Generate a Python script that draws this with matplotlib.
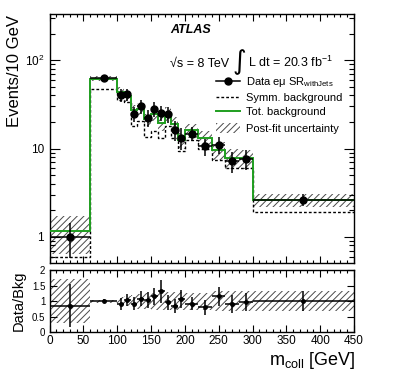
import numpy as np
import matplotlib
matplotlib.use('Agg')
import matplotlib.pyplot as plt
from matplotlib.patches import Rectangle
from matplotlib.ticker import FixedLocator, FixedFormatter, MultipleLocator, NullFormatter, LogLocator

plt.rcParams['font.family'] = ['Liberation Sans', 'DejaVu Sans']
plt.rcParams['mathtext.fontset'] = 'custom'
plt.rcParams['mathtext.rm'] = 'Liberation Sans'
plt.rcParams['mathtext.it'] = 'Liberation Sans:italic'
plt.rcParams['mathtext.bf'] = 'Liberation Sans:bold'
plt.rcParams['hatch.linewidth'] = 0.7

# ---------------- data ----------------
bin_edges = [0, 60, 100, 110, 120, 130, 140, 150, 160, 170, 180, 190, 200,
             220, 240, 260, 280, 300, 450]
data = [1.0, 63.6, 40.3, 41.0, 24.8, 30.2, 22.3, 28.3, 25.5, 24.3, 16.3, 13.3,
        14.8, 10.6, 11.1, 7.2, 7.6, 2.63]
data_err = [0.42, 4.0, 6.3, 6.4, 5.0, 5.5, 4.7, 5.3, 5.0, 4.9, 4.0, 3.6,
            2.7, 2.3, 2.35, 1.9, 1.95, 0.42]
tot_bkg = [1.18, 62.0, 44.0, 39.5, 27.0, 28.2, 21.4, 24.4, 19.5, 25.0, 19.2, 12.4,
           16.1, 13.3, 9.6, 7.9, 7.8, 2.61]
symm_bkg = [0.6, 47.5, 35.0, 34.0, 18.0, 20.5, 13.5, 15.7, 13.0, 18.0, 13.0, 9.5,
            12.5, 10.0, 7.5, 6.0, 6.0, 1.9]
bkg_rel_unc = [0.45, 0.06, 0.12, 0.14, 0.15, 0.15, 0.16, 0.16, 0.18, 0.18, 0.18, 0.2,
               0.18, 0.2, 0.22, 0.25, 0.25, 0.17]
ratio = [0.85, 1.02, 0.91, 1.04, 0.92, 1.07, 1.04, 1.16, 1.31, 0.97, 0.85, 1.07,
         0.92, 0.80, 1.16, 0.91, 0.97, 1.01]
ratio_err = [0.69, 0.06, 0.18, 0.2, 0.21, 0.24, 0.25, 0.27, 0.36, 0.24, 0.23, 0.3,
             0.2, 0.25, 0.3, 0.28, 0.3, 0.32]
ratio_band_unc = [0.70, 0.05, 0.13, 0.17, 0.2, 0.24, 0.25, 0.27, 0.28, 0.28, 0.28, 0.28,
                  0.27, 0.27, 0.33, 0.33, 0.33, 0.33]

edges = np.array(bin_edges, dtype=float)
left = edges[:-1]
widths = np.diff(edges)
centers = left + widths / 2
tot = np.array(tot_bkg)
unc = np.array(bkg_rel_unc)
rb = np.array(ratio_band_unc)

GREEN = '#1f9e1f'
HATCH_C = '#4a4a4a'

W, H = 395, 380
fig = plt.figure(figsize=(W / 100, H / 100), dpi=100)
ax = fig.add_axes([49.5 / W, 1 - 263 / H, 304.5 / W, 249 / H])
ax2 = fig.add_axes([49.5 / W, 1 - 332.3 / H, 304.5 / W, 62.3 / H])

# ---------------- main panel ----------------
ax.bar(left, tot * unc * 2, width=widths, bottom=tot * (1 - unc), align='edge',
       facecolor='none', edgecolor=HATCH_C, hatch='/////', linewidth=0, zorder=1)
ax.stairs(symm_bkg, edges, baseline=None, color='black', lw=1.0,
          linestyle=(0, (2, 1.5)), zorder=2)
ax.stairs(tot_bkg, edges, baseline=None, color=GREEN, lw=1.4, zorder=3)
ax.errorbar(centers, data, yerr=data_err, xerr=widths / 2, fmt='o', color='black',
            ms=5, lw=1.1, capsize=0, zorder=4)

ax.set_yscale('log')
ax.set_xlim(0, 450)
ax.set_ylim(0.507, 333)
ax.yaxis.set_major_locator(FixedLocator([1, 10, 100]))
ax.yaxis.set_major_formatter(FixedFormatter(['1', '10', r'$10^{2}$']))
ax.yaxis.set_minor_locator(LogLocator(base=10, subs=np.arange(2, 10)))
ax.yaxis.set_minor_formatter(NullFormatter())
ax.xaxis.set_major_locator(MultipleLocator(50))
ax.xaxis.set_minor_locator(MultipleLocator(10))
ax.tick_params(axis='x', labelbottom=False)
ax.tick_params(which='both', direction='in', top=True, right=True, width=0.8)
ax.tick_params(axis='y', which='major', length=7, labelsize=8.5, pad=4)
ax.tick_params(axis='y', which='minor', length=3.6)
ax.tick_params(axis='x', which='major', length=5)
ax.tick_params(axis='x', which='minor', length=2.5)

# texts
ax.text(0.398, 0.925, 'ATLAS', transform=ax.transAxes, fontsize=9,
        fontweight='bold', fontstyle='italic', va='baseline', ha='left')
ax.text(0.396, 0.788, '√s = 8 TeV', transform=ax.transAxes, fontsize=9,
        va='baseline', ha='left')
ax.text(0.624, 0.805, '∫', transform=ax.transAxes, fontsize=19,
        family='DejaVu Sans', va='center', ha='center')
ax.text(0.652, 0.788, r'L dt = 20.3 fb$^{\mathregular{-1}}$', transform=ax.transAxes,
        fontsize=9, va='baseline', ha='left')

# legend (manual)
hx0, hx1, tx = 0.547, 0.627, 0.645
ax.plot([hx0, hx1], [0.732, 0.732], color='black', lw=1.1, transform=ax.transAxes)
ax.plot([(hx0 + hx1) / 2], [0.732], 'o', color='black', ms=5, transform=ax.transAxes)
ax.plot([hx0, hx1], [0.668, 0.668], color='black', lw=1.0, linestyle=(0, (2, 1.5)),
        transform=ax.transAxes)
ax.plot([hx0, hx1], [0.612, 0.612], color=GREEN, lw=1.4, transform=ax.transAxes)
ax.add_patch(Rectangle((hx0, 0.523), hx1 - hx0, 0.039, transform=ax.transAxes,
                       facecolor='none', edgecolor=HATCH_C, hatch='/////', linewidth=0))
ax.text(tx, 0.716, r'Data eμ SR$_{\mathregular{withJets}}$', transform=ax.transAxes,
        fontsize=8, va='baseline')
ax.text(tx, 0.652, 'Symm. background', transform=ax.transAxes, fontsize=8, va='baseline')
ax.text(tx, 0.596, 'Tot. background', transform=ax.transAxes, fontsize=8, va='baseline')
ax.text(tx, 0.528, 'Post-fit uncertainty', transform=ax.transAxes, fontsize=8, va='baseline')

# ---------------- ratio panel ----------------
ax2.bar(left, rb * 2, width=widths, bottom=1 - rb, align='edge',
        facecolor='none', edgecolor=HATCH_C, hatch='/////', linewidth=0, zorder=1)
ax2.errorbar(centers, ratio, yerr=ratio_err, xerr=widths / 2, fmt='o', color='black',
             ms=2.5, lw=1.1, capsize=0, zorder=4)
ax2.set_xlim(0, 450)
ax2.set_ylim(0, 2)
ax2.yaxis.set_major_locator(FixedLocator([0, 0.5, 1, 1.5, 2]))
ax2.yaxis.set_major_formatter(FixedFormatter(['0', '0.5', '1', '1.5', '2']))
ax2.xaxis.set_major_locator(MultipleLocator(50))
ax2.xaxis.set_minor_locator(MultipleLocator(10))
ax2.tick_params(which='both', direction='in', top=True, right=True, width=0.8)
ax2.tick_params(axis='y', which='major', length=5, labelsize=7, pad=3)
ax2.tick_params(axis='x', which='major', length=5, labelsize=8.5, pad=2)
ax2.tick_params(axis='x', which='minor', length=2.5)

for a in (ax, ax2):
    for s in a.spines.values():
        s.set_linewidth(1.0)

fig.text(15 / W, 1 - 15 / H, 'Events/10 GeV', rotation=90, ha='center', va='top', fontsize=12)
fig.text(19 / W, 1 - 301 / H, 'Data/Bkg', rotation=90, ha='center', va='center', fontsize=10.5)
fig.text(355 / W, 1 - 365 / H, r'm$_{\mathregular{coll}}$ [GeV]', ha='right', va='baseline',
         fontsize=13)

fig.savefig('out.png', dpi=100)
